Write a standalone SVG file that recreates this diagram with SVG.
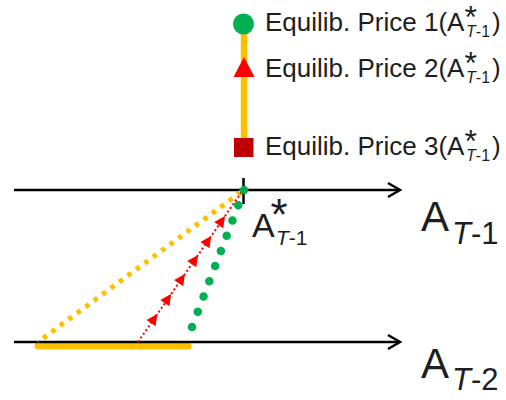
<svg xmlns="http://www.w3.org/2000/svg" width="506" height="400" viewBox="0 0 506 400">
<style>
  .t { font-family: "Liberation Sans", Arial, sans-serif; fill: #1e1e1e; }
  .it { font-style: italic; }
  .axis { stroke: #000; stroke-width: 2.5; fill: none; }
</style>
<defs>
  <marker id="tri" markerUnits="userSpaceOnUse" markerWidth="16" markerHeight="16" refX="0" refY="0" viewBox="-8 -8 16 16" orient="auto">
    <polygon points="6,0 -5,-5.5 -5,5.5" fill="#FF0000"/>
  </marker>
</defs>
<rect width="506" height="400" fill="#fff"/>

<g id="legend">
  <line x1="244" y1="24" x2="244" y2="148" stroke="#FFC000" stroke-width="6.5"/>
  <g id="legend-price1">
    <circle cx="243.5" cy="24" r="10.5" fill="#00B050"/>
    <text class="t" x="265" y="31" font-size="26">Equilib. Price 1(A<tspan dy="-3" font-size="32">*</tspan><tspan dx="-10.8" dy="9" font-size="16"><tspan class="it">T</tspan>-1</tspan><tspan dx="2" dy="-6">)</tspan></text>
  </g>
  <g id="legend-price2">
    <polygon points="244,57 233.5,77 254.5,77" fill="#FF0000"/>
    <text class="t" x="265" y="77" font-size="26">Equilib. Price 2(A<tspan dy="-3" font-size="32">*</tspan><tspan dx="-10.8" dy="9" font-size="16"><tspan class="it">T</tspan>-1</tspan><tspan dx="2" dy="-6">)</tspan></text>
  </g>
  <g id="legend-price3">
    <rect x="234" y="138" width="19.5" height="19" fill="#C00000"/>
    <text class="t" x="265" y="155" font-size="26">Equilib. Price 3(A<tspan dy="-3" font-size="32">*</tspan><tspan dx="-10.8" dy="9" font-size="16"><tspan class="it">T</tspan>-1</tspan><tspan dx="2" dy="-6">)</tspan></text>
  </g>
</g>

<g id="axis-t1">
  <line class="axis" x1="14" y1="190" x2="399" y2="190"/>
  <polyline class="axis" points="388,183 400,190 388,197"/>
  <line class="axis" x1="243.5" y1="178" x2="243.5" y2="204"/>
  <text class="t" x="421" y="231" font-size="42">A<tspan dx="3" dy="13" font-size="31"><tspan class="it">T</tspan>-1</tspan></text>
</g>

<g id="equilibrium-label">
  <text class="t" x="252" y="237" font-size="34">A<tspan dx="-4.2" dy="-7.5" font-size="44">*</tspan><tspan dx="-11.6" dy="15.5" font-size="21"><tspan class="it">T</tspan>-1</tspan></text>
</g>

<g id="range-bar">
  <line x1="38" y1="346" x2="188" y2="346" stroke="#FFC000" stroke-width="7" stroke-linecap="round"/>
</g>

<g id="axis-t2">
  <line class="axis" x1="14" y1="342" x2="399" y2="342"/>
  <polyline class="axis" points="388,335 400,342 388,349"/>
  <text class="t" x="421" y="378" font-size="42">A<tspan dx="3" dy="12" font-size="31"><tspan class="it">T</tspan>-2</tspan></text>
</g>

<g id="connectors">
  <line x1="241" y1="192" x2="38" y2="342" stroke="#FFC000" stroke-width="5" stroke-dasharray="4.5 6"/>
  <polyline points="138,342 153.9,319 167.7,299 181.5,279 194.6,260 207.8,241 221.6,221 243,190" fill="none" stroke="#FF0000" stroke-width="2" stroke-dasharray="2 2.5" marker-mid="url(#tri)"/>
  <line x1="244" y1="190" x2="192" y2="327" stroke="#00B050" stroke-width="8.5" stroke-linecap="round" stroke-dasharray="0 16.28"/>
</g>
</svg>
